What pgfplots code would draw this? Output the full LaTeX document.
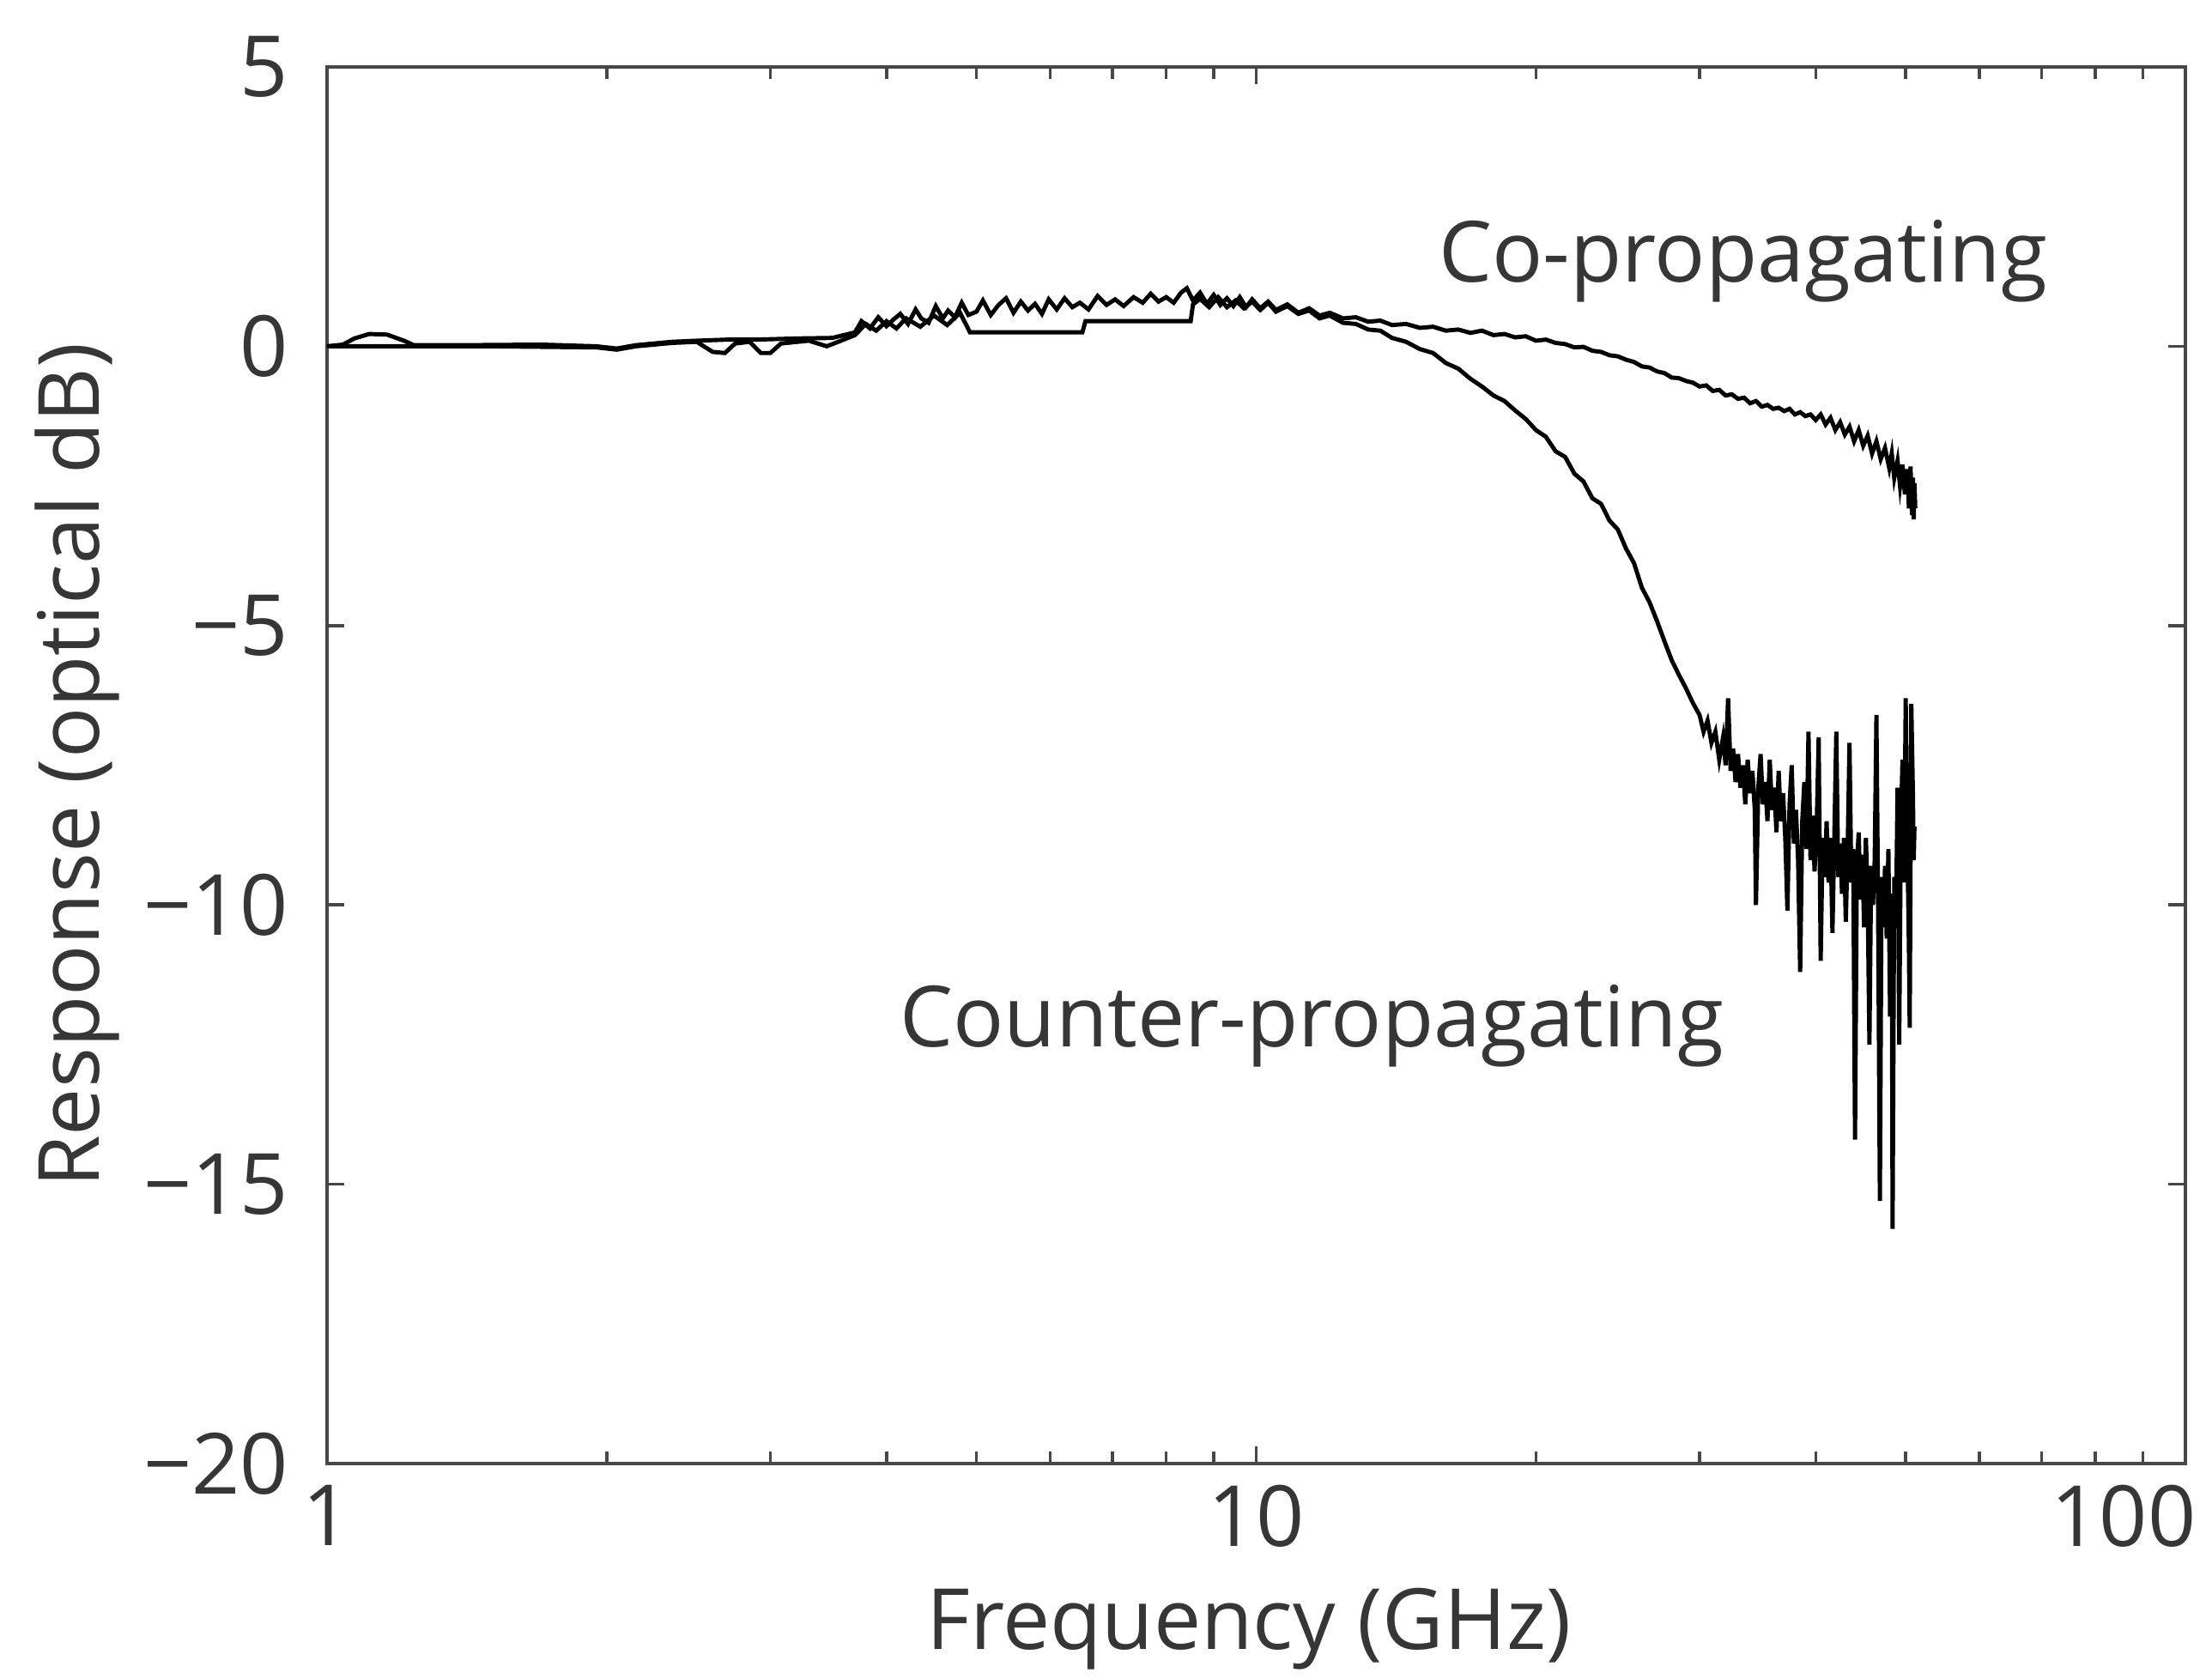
\documentclass[border=0pt]{standalone}
\usepackage{fontspec}
\setmainfont{Open Sans}
\usepackage{pgfplots}
\pgfplotsset{compat=1.18}
\definecolor{txt}{HTML}{363636}
\definecolor{frame}{HTML}{474747}

\begin{document}
\begin{tikzpicture}
\useasboundingbox (-1.905,-1.25) rectangle (10.98,8.525);
\begin{semilogxaxis}[
    at={(0,0)}, anchor=south west,
    scale only axis,
    width=10.825cm, height=8.135cm,
    xmin=1, xmax=100, ymin=-20, ymax=5,
    xtick={1,10,100}, xticklabels={1,10,{100\hspace*{0.72cm}}},
    ytick={-20,-15,-10,-5,0,5},
    yticklabels={−20,−15,−10,−5,0,5},
    tick align=inside,
    major tick length=0.1cm, minor tick length=0.07cm,
    axis line style={frame, line width=0.6pt},
    tick style={frame, line width=0.5pt},
    tick label style={txt, font=\fontsize{14}{17}\selectfont},
    yticklabel style={xshift=-0.1cm},
    label style={txt, font=\fontsize{14}{17}\selectfont},
    xlabel={Frequency (GHz)},
    ylabel={Response (optical dB)},
    xlabel style={at={(axis description cs:0.496,-0.1186)}, anchor=center},
    ylabel style={at={(axis description cs:-0.1344,0.5)}, anchor=center},
    clip=false,
    ]
    % co-propagating
    \addplot[black, line width=0.7pt] coordinates {
    (1.00,0.00) (1.04,0.03) (1.07,0.14) (1.11,0.22) (1.16,0.21) (1.21,0.10)
    (1.24,0.02) (1.40,0.02) (1.70,0.03) (1.95,0.00) (2.05,-0.04) (2.15,0.02)
    (2.35,0.08) (2.50,0.10) (2.70,0.12) (2.90,0.12) (3.20,0.14) (3.50,0.15)
    (3.70,0.25) (3.76,0.45) (3.84,0.32) (3.92,0.52) (4.00,0.36) (4.07,0.48)
    (4.14,0.58) (4.22,0.40) (4.30,0.66) (4.36,0.50) (4.44,0.42) (4.52,0.72)
    (4.60,0.50) (4.66,0.64) (4.74,0.52) (4.82,0.78) (4.90,0.56) (5.00,0.62)
    (5.08,0.82) (5.18,0.56) (5.28,0.74) (5.38,0.86) (5.48,0.60) (5.58,0.80)
    (5.68,0.64) (5.78,0.76) (5.88,0.58) (5.98,0.84) (6.10,0.66) (6.22,0.86)
    (6.34,0.70) (6.46,0.78) (6.60,0.66) (6.75,0.90) (6.90,0.74) (7.05,0.84)
    (7.20,0.72) (7.38,0.88) (7.55,0.78) (7.70,0.94) (7.85,0.80) (8.00,0.88)
    (8.15,0.78) (8.30,0.96) (8.42,1.04) (8.55,0.82) (8.70,0.96) (8.85,0.76)
    (9.00,0.92) (9.15,0.74) (9.30,0.86) (9.45,0.72) (9.60,0.88) (9.75,0.70)
    (9.90,0.84) (10.1,0.68) (10.3,0.80) (10.5,0.65) (10.8,0.75) (11.1,0.60)
    (11.4,0.68) (11.7,0.55) (12.0,0.60) (12.4,0.50) (12.8,0.52) (13.2,0.44)
    (13.6,0.46) (14.0,0.38) (14.5,0.40) (15.0,0.33) (15.5,0.35) (16.0,0.28)
    (16.5,0.30) (17.0,0.24) (17.5,0.28) (18.0,0.20) (18.5,0.22) (19.0,0.16)
    (19.5,0.18) (20.0,0.10) (20.5,0.12) (21.0,0.06) (21.5,0.04) (22.0,-0.02)
    (22.5,-0.01) (23.0,-0.08) (23.5,-0.10) (24.0,-0.16) (24.5,-0.18) (25.0,-0.24)
    (25.5,-0.28) (26.0,-0.36) (26.5,-0.38) (27.0,-0.45) (27.5,-0.48) (28.0,-0.56)
    (28.5,-0.57) (29.0,-0.62) (29.5,-0.65) (30.0,-0.72) (30.5,-0.70) (31.0,-0.80)
    (31.5,-0.78) (32.0,-0.88) (32.5,-0.86) (33.0,-0.94) (33.5,-0.92) (34.0,-1.02)
    (34.5,-0.98) (35.0,-1.08) (35.5,-1.05) (36.0,-1.12) (36.5,-1.10) (37.0,-1.16)
    (37.5,-1.12) (38.0,-1.22) (38.5,-1.18) (39.0,-1.25) (39.5,-1.22) (40.0,-1.32)
    (40.5,-1.22) (41.0,-1.40) (41.5,-1.28) (42.0,-1.50) (42.5,-1.36) (43.0,-1.58)
    (43.5,-1.44) (44.0,-1.70) (44.5,-1.50) (45.0,-1.78) (45.5,-1.60) (46.0,-1.92)
    (46.5,-1.70) (47.0,-2.02) (47.5,-1.82) (48.0,-2.18) (48.3,-1.92) (48.6,-2.36)
    (49.0,-2.05) (49.3,-2.50) (49.6,-2.12) (49.9,-2.65) (50.2,-2.20) (50.4,-2.90)
    (50.6,-2.15) (50.8,-3.02) (50.9,-2.35) (51.0,-3.10) (51.1,-2.45) (51.2,-2.90)
    };
    % counter-propagating
    \addplot[black, line width=0.7pt] coordinates {
    (1.00,0.00) (1.50,0.00) (1.95,-0.02) (2.05,-0.06) (2.15,0.00) (2.35,0.06)
    (2.50,0.08) (2.60,-0.10) (2.68,-0.12) (2.75,0.05) (2.85,0.08) (2.93,-0.12)
    (3.00,-0.12) (3.08,0.05) (3.30,0.10) (3.45,0.00) (3.55,0.08) (3.70,0.20)
    (3.80,0.40) (3.90,0.28) (4.00,0.45) (4.10,0.32) (4.20,0.50) (4.35,0.35)
    (4.50,0.55) (4.65,0.38) (4.80,0.60) (4.92,0.25) (6.50,0.25) (6.55,0.45)
    (8.50,0.45) (8.55,0.75) (8.70,0.85) (8.90,0.70) (9.10,0.88) (9.30,0.70)
    (9.50,0.82) (9.70,0.68) (9.90,0.80) (10.1,0.65) (10.3,0.78) (10.5,0.62)
    (10.8,0.72) (11.1,0.58) (11.4,0.64) (11.7,0.50) (12.0,0.55) (12.4,0.42)
    (12.8,0.40) (13.2,0.30) (13.6,0.28) (14.0,0.15) (14.5,0.08) (15.0,-0.05)
    (15.5,-0.12) (16.0,-0.30) (16.5,-0.40) (17.0,-0.58) (17.5,-0.72) (18.0,-0.88)
    (18.5,-0.98) (19.0,-1.15) (19.5,-1.30) (20.0,-1.50) (20.5,-1.62) (21.0,-1.88)
    (21.5,-1.98) (22.0,-2.28) (22.5,-2.42) (23.0,-2.72) (23.5,-2.82) (24.0,-3.12)
    (24.5,-3.28) (25.0,-3.62) (25.5,-3.88) (26.0,-4.32) (26.5,-4.58) (27.0,-4.92)
    (27.5,-5.28) (28.0,-5.62) (28.5,-5.88) (29.0,-6.12) (29.5,-6.38)
    (30.0,-6.6) (30.3,-6.9) (30.6,-6.7) (30.9,-7.1) (31.2,-6.9) (31.5,-7.4)
    (31.8,-7.0) (32.0,-7.5) (32.2,-6.3) (32.4,-7.6) (32.6,-7.2) (32.8,-7.8)
    (33.0,-7.3) (33.2,-7.9) (33.4,-7.5) (33.6,-8.2) (33.8,-7.4) (34.0,-8.0)
    (34.2,-7.6) (34.4,-8.3) (34.5,-10.0) (34.7,-7.9) (34.9,-7.3) (35.1,-8.2)
    (35.3,-7.8) (35.5,-8.5) (35.7,-7.4) (35.9,-8.3) (36.1,-7.9) (36.3,-8.7)
    (36.5,-7.6) (36.7,-8.5) (36.9,-8.0) (37.1,-8.8) (37.3,-10.1) (37.5,-8.2)
    (37.7,-7.5) (37.9,-8.9) (38.1,-8.3) (38.3,-9.2) (38.5,-11.2) (38.7,-8.5)
    (38.9,-7.8) (39.1,-9.0) (39.3,-6.9) (39.5,-9.2) (39.7,-8.4) (39.9,-9.4)
    (40.1,-8.6) (40.3,-7.0) (40.5,-11.0) (40.7,-8.8) (40.9,-9.5) (41.1,-8.5)
    (41.3,-9.6) (41.5,-8.8) (41.7,-10.5) (41.9,-8.7) (42.1,-6.9) (42.3,-9.5)
    (42.5,-8.9) (42.7,-9.8) (42.9,-8.8) (43.1,-10.3) (43.3,-9.0) (43.5,-7.1)
    (43.7,-9.6) (43.9,-9.0) (44.1,-14.2) (44.3,-9.3) (44.5,-8.7) (44.7,-9.9)
    (44.9,-9.1) (45.1,-10.4) (45.3,-8.8) (45.5,-9.8) (45.7,-12.5) (45.9,-9.3)
    (46.1,-10.0) (46.3,-9.2) (46.5,-6.6) (46.7,-10.2) (46.9,-15.3) (47.1,-9.5)
    (47.3,-10.4) (47.5,-9.3) (47.7,-10.6) (47.9,-9.0) (48.1,-12.0) (48.3,-9.8)
    (48.4,-15.8) (48.6,-9.5) (48.8,-10.4) (49.0,-7.9) (49.2,-12.5) (49.4,-8.6)
    (49.6,-7.4) (49.8,-9.6) (50.0,-6.3) (50.2,-8.8) (50.4,-10.8) (50.5,-12.2)
    (50.7,-6.4) (50.9,-8.0) (51.0,-9.2) (51.1,-8.6)
    };
    \node[txt, font=\fontsize{14}{17}\selectfont] at (axis cs:33.4,1.53) {Co-propagating};
    \node[txt, font=\fontsize{14}{17}\selectfont] at (axis cs:11.47,-12.16) {Counter-propagating};
\end{semilogxaxis}
\end{tikzpicture}
\end{document}
